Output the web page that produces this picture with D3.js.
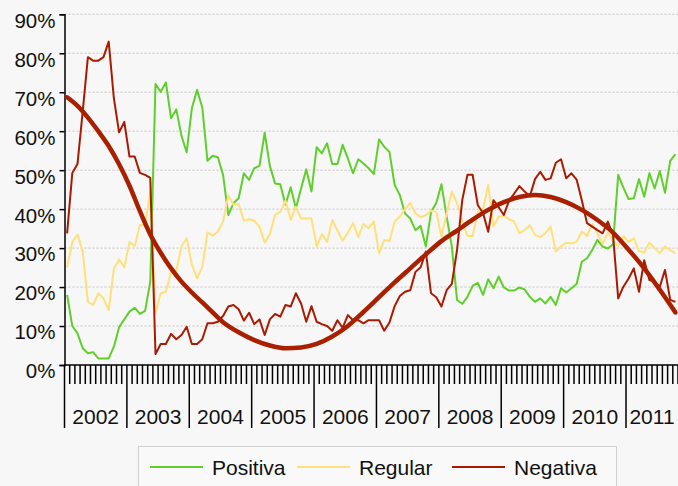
<!DOCTYPE html>
<html><head><meta charset="utf-8">
<script src="https://cdn.jsdelivr.net/npm/d3@7"></script>
<style>
html,body{margin:0;padding:0;background:#f7f7f7;}
svg{display:block;}
text{font-family:"Liberation Sans",Arial,sans-serif;fill:#111;}
</style></head>
<body>
<svg id="c" width="678" height="486"></svg>
<script>
// ---- data (monthly, Jan 2002 - Oct 2011) ----
const startMonth = new Date(2002, 0, 1);
const endMonth = new Date(2011, 10, 1);
const months = d3.timeMonths(startMonth, endMonth); // categories
const yearLabels = ["2002","2003","2004","2005","2006","2007","2008","2009","2010","2011"];
const yTicks = [0,10,20,30,40,50,60,70,80,90];
const seriesNames = ["Positiva","Regular","Negativa"];

const positiva = [18.0,10.0,8.1,4.3,3.0,3.3,1.7,1.7,1.7,4.7,9.7,11.7,
13.7,14.7,13.1,13.9,21.4,72.1,70.1,72.5,63.3,65.6,58.8,54.6,
65.9,70.6,66.1,52.4,53.7,53.3,48.8,38.5,41.5,42.8,49.2,47.5,
50.5,51.1,59.6,51.1,46.6,46.4,41.1,45.6,40.2,45.3,50.2,44.5,
55.9,54.3,56.9,51.6,51.6,56.5,53.0,49.2,52.8,51.7,50.5,49.0,
57.9,56.0,54.7,46.2,43.6,38.9,37.6,34.6,35.7,30.4,39.3,41.6,
46.4,38.1,30.4,16.7,15.7,17.5,20.3,21.1,18.0,22.0,19.7,22.7,
19.9,19.1,19.1,19.9,19.4,17.5,16.2,17.1,15.8,17.5,15.4,19.7,
18.6,19.7,20.8,26.5,27.4,29.5,32.1,30.4,29.9,31.0,48.8,45.5,
42.6,42.8,47.7,43.2,49.2,45.3,49.8,44.2,52.4,54.1];

const regular = [25.1,31.6,33.5,29.1,16.2,15.4,18.4,17.1,14.1,24.8,27.1,25.1,
31.6,30.5,35.9,35.9,44.5,13.3,18.4,18.8,23.9,24.1,30.4,32.5,
25.7,22.2,25.1,34.0,33.2,34.2,36.8,43.5,41.1,41.3,37.0,37.4,
37.0,35.5,31.4,33.6,38.5,39.3,42.2,37.2,40.6,37.6,37.6,37.6,
30.4,33.6,31.6,37.2,34.5,31.9,34.0,36.4,32.8,36.2,35.1,36.8,
28.7,32.1,31.8,36.8,38.1,40.0,41.6,38.9,37.9,38.5,39.6,39.3,
32.9,38.9,44.5,41.5,37.0,33.1,33.1,39.3,40.0,46.2,35.5,38.1,
38.2,37.4,36.8,33.8,34.6,35.9,33.4,32.8,33.9,35.5,29.1,30.4,
31.4,31.2,31.6,34.2,33.1,36.2,33.8,31.1,33.9,32.0,30.5,33.1,
31.6,32.5,29.3,28.8,31.4,30.0,28.7,30.4,29.5,28.7];

const negativa = [33.8,49.3,51.6,65.0,79.0,78.1,78.1,79.0,83.0,68.4,59.7,62.4,
53.5,53.5,49.3,48.8,48.0,2.8,5.4,5.4,8.0,6.6,7.7,9.8,
5.4,5.4,6.6,10.7,10.7,11.1,12.6,15.0,15.4,14.3,11.4,13.4,
10.5,11.7,7.7,11.7,13.1,12.4,15.4,15.0,18.4,15.8,11.1,15.1,
11.1,10.5,10.0,8.8,11.5,9.5,12.8,11.5,11.5,10.7,11.5,11.5,
11.5,8.8,10.9,15.1,17.7,18.8,19.2,23.9,25.1,29.1,18.4,17.4,
15.0,19.2,20.8,29.5,42.3,48.8,48.8,41.0,39.0,34.2,42.3,40.5,
38.5,42.2,44.0,45.9,44.5,43.3,47.7,49.6,47.5,47.9,51.9,52.8,
47.9,49.2,47.6,42.3,36.4,35.5,34.6,33.8,36.8,33.4,17.1,20.1,
22.2,24.8,18.8,26.9,21.8,21.4,20.1,24.4,16.7,16.2];

// trend of Negativa at these month indexes
const trendMonth = [0,2,4,6,8,10,12,14,16,18,20,22,24,27,30,33,36,39,42,45,48,51,54,57,60,63,66,69,72,75,78,81,84,87,90,93,96,99,102,105,108,111,114,117];
const trendValue = [68.7,66.5,63.5,60.0,56.2,51.5,46.0,39.5,33.5,28.8,24.8,21.4,18.6,14.8,11.0,8.4,6.4,5.0,4.3,4.5,5.4,7.3,10.0,13.6,17.4,21.2,24.8,28.4,31.8,34.5,37.3,39.8,41.8,43.1,43.6,43.1,41.8,39.8,37.2,34.0,29.6,24.8,19.3,13.5];

const colors = {Positiva:"#5fcf2c", Regular:"#ffe07a", Negativa:"#aa1a00"};
const trendColor = "#a82000";

// ---- layout ----
const svg = d3.select("#c");
const L = 64.5, R = 678, T = 14.3, B = 365;
const x = d3.scaleBand().domain(months.map((d,i)=>i)).range([L, R]).padding(0);
const y = d3.scaleLinear().domain([0, 90]).range([B, T]);
const xc = i => x(i) + x.bandwidth()/2;

// gridlines
svg.append("g").selectAll("line").data(yTicks.filter(v=>v>0)).join("line")
  .attr("x1", L).attr("x2", R).attr("y1", d=>y(d)).attr("y2", d=>y(d))
  .attr("stroke", "#c4c4c4").attr("stroke-width", 1).attr("stroke-dasharray", "2,2");

// y axis
const yAxis = d3.axisLeft(y).tickValues(yTicks).tickFormat(d=>d+"%").tickSize(5).tickPadding(4);
const gy = svg.append("g").attr("transform", `translate(${L},0)`).call(yAxis);
gy.select(".domain").attr("stroke","#000").attr("stroke-width",1.5);
gy.selectAll(".tick line").attr("stroke","#000").attr("stroke-width",1.5);
gy.selectAll(".tick text").attr("font-size", "20.5px").attr("dy", "0.75em").attr("fill","#111")
  .attr("font-family","Liberation Sans, Arial, sans-serif").attr("x",-9)
  .attr("transform","translate(0,-2.5)");

// x axis: month ticks (band edges) and year separators
const edges = d3.range(months.length + 1);
const edgeX = i => i < months.length ? x(i) : R;
svg.append("g").selectAll("line").data(edges.filter(i=>i%12!==0)).join("line")
  .attr("x1", d=>edgeX(d)).attr("x2", d=>edgeX(d)).attr("y1", B).attr("y2", 384)
  .attr("stroke","#000").attr("stroke-width",1.5);
svg.append("g").selectAll("line").data(edges.filter(i=>i%12===0)).join("line")
  .attr("x1", d=>edgeX(d)).attr("x2", d=>edgeX(d)).attr("y1", B).attr("y2", 428)
  .attr("stroke","#000").attr("stroke-width",1.5);
svg.append("line").attr("x1",L).attr("x2",R).attr("y1",B).attr("y2",B)
  .attr("stroke","#000").attr("stroke-width",1.5);
svg.append("g").selectAll("text").data(yearLabels).join("text")
  .attr("x", (d,k)=>{const a=edgeX(k*12), b=edgeX(Math.min(k*12+12, months.length)); return (a+b)/2;})
  .attr("y", 424).attr("text-anchor","middle").attr("font-size","21px").text(d=>d);

// series lines
const line = d3.line().x((d,i)=>xc(i)).y(d=>y(d));
const series = [["Positiva", positiva],["Regular", regular],["Negativa", negativa]];
const plot = svg.append("g");
plot.selectAll("path.s").data(series).join("path").attr("class","s")
  .attr("d", d=>line(d[1])).attr("fill","none")
  .attr("stroke", d=>colors[d[0]]).attr("stroke-width",2).attr("stroke-linejoin","round");

// trend
const tline = d3.line().x((d,k)=>xc(trendMonth[k])).y(d=>y(d)).curve(d3.curveMonotoneX);
plot.append("path").attr("d", tline(trendValue)).attr("fill","none")
  .attr("stroke", trendColor).attr("stroke-width",4.5).attr("stroke-linecap","round");

// legend
const lg = svg.append("g");
lg.append("rect").attr("x",138.5).attr("y",446.5).attr("width",478).attr("height",60)
  .attr("fill","#f9f9f9").attr("stroke","#cfcfcf").attr("stroke-width",1);
const legendX = [150, 297, 452];
seriesNames.forEach((n,k)=>{
  lg.append("line").attr("x1",legendX[k]).attr("x2",legendX[k]+53).attr("y1",467).attr("y2",467)
    .attr("stroke",colors[n]).attr("stroke-width",2);
  lg.append("text").attr("x",legendX[k]+62).attr("y",475).attr("font-size","21px").text(n);
});
</script>
</body></html>
